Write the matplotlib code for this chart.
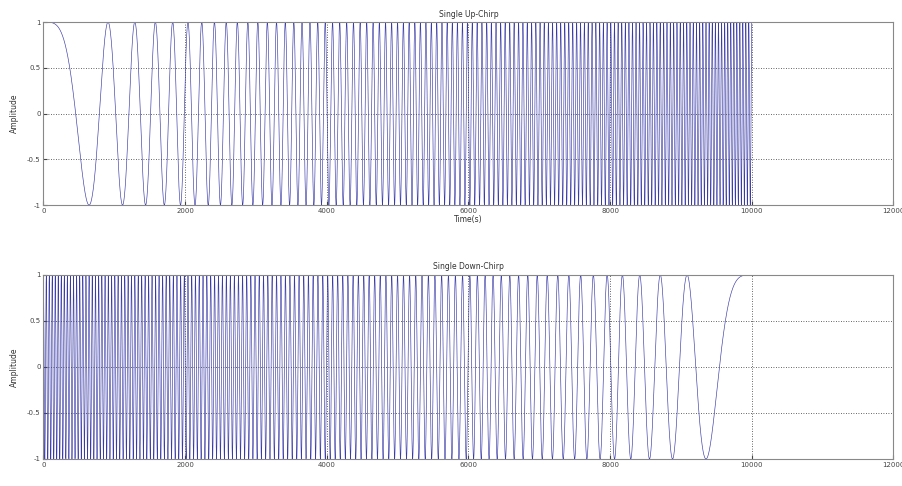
import numpy as np
import matplotlib
matplotlib.use("Agg")
import matplotlib.pyplot as plt

# chirp parameters
n_samples = 10000          # length of each chirp (time units)
f_start = 0.0              # start frequency (cycles per time unit)
f_end = 0.024              # end frequency (cycles per time unit)
x_ticks = [0, 2000, 4000, 6000, 8000, 10000, 12000]
y_ticks = [-1, -0.5, 0, 0.5, 1]
titles = ["Single Up-Chirp", "Single Down-Chirp"]

t = np.arange(0, n_samples + 1)
beta = (f_end - f_start) / n_samples
up_chirp = np.cos(2 * np.pi * (f_start * t + 0.5 * beta * t ** 2))
down_chirp = up_chirp[::-1]

fig = plt.figure(figsize=(9.03, 4.86), dpi=100)
ax1 = fig.add_axes([0.048, 0.578, 0.9414, 0.3765])
ax2 = fig.add_axes([0.048, 0.0556, 0.9414, 0.3786])

line_color = "#3a3aa8"
for ax, sig, title in zip([ax1, ax2], [up_chirp, down_chirp], titles):
    ax.plot(t, sig, color=line_color, linewidth=0.45)
    ax.set_xlim(0, 12000)
    ax.set_ylim(-1, 1)
    ax.set_xticks(x_ticks)
    ax.set_yticks(y_ticks)
    ax.set_yticklabels(["-1", "-0.5", "0", "0.5", "1"])
    ax.grid(True, linestyle=(0, (1, 2)), color="#333333", linewidth=0.6)
    ax.tick_params(direction="in", labelsize=5, colors="#444444", length=3, pad=2)
    for sp in ax.spines.values():
        sp.set_color("#888888")
        sp.set_linewidth(0.8)
    ax.set_title(title, fontsize=5.5, color="#333333", pad=4)
    ax.set_ylabel("Amplitude", fontsize=5.5, color="#333333", labelpad=6)

ax1.set_xlabel("Time(s)", fontsize=5.5, color="#333333", labelpad=1)

fig.savefig("out.png", dpi=100)
